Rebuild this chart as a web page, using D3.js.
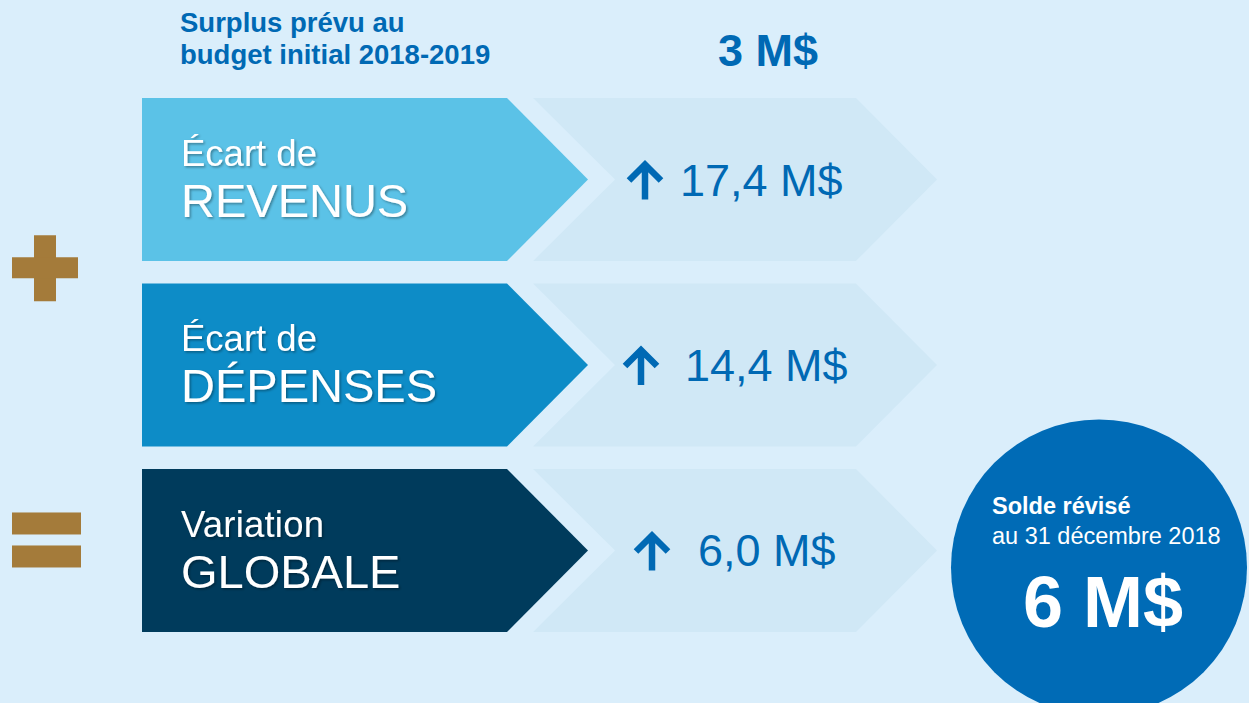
<!DOCTYPE html>
<html>
<head>
<meta charset="utf-8">
<script src="https://cdn.jsdelivr.net/npm/d3@7"></script>
<style>
  html, body { margin: 0; padding: 0; background: #daeefb; }
  svg { display: block; font-family: "Liberation Sans", Arial, sans-serif; }
</style>
</head>
<body>
<div class="container"></div>
<script>
// data
const rows = ["revenus", "depenses", "globale"];
const labelTop = ["Écart de", "Écart de", "Variation"];
const labelBig = ["REVENUS", "DÉPENSES", "GLOBALE"];
const variations = ["17,4 M$", "14,4 M$", "6,0 M$"];
const rowColors = ["#5bc2e7", "#0d8cc7", "#003b5c"];
const startTitle = ["Surplus prévu au", "budget initial 2018-2019"];
const startValue = "3 M$";
const endTitle = ["Solde révisé", "au 31 décembre 2018"];
const endValue = "6 M$";

const w = 1249;
const h = 703;

const svg = d3.select(".container")
    .append("svg")
    .attr("width", w)
    .attr("height", h)
    .attr("viewBox", `0 0 ${w} ${h}`);

// soft shadow under the white labels
const defs = svg.append("defs");
defs.append("filter")
    .attr("id", "shadow")
    .attr("x", "-10%").attr("y", "-20%")
    .attr("width", "130%").attr("height", "150%")
    .append("feDropShadow")
    .attr("dx", 1.5).attr("dy", 1.5)
    .attr("stdDeviation", 1)
    .attr("flood-color", "#000")
    .attr("flood-opacity", 0.35);

// rows are placed with a band scale
const y = d3.scaleBand()
    .domain(rows)
    .range([98, 632])
    .paddingInner(0.121);

const bh = y.bandwidth();
const tip = 81;

// x positions of the two arrow shapes
const x = d3.scaleOrdinal()
    .domain(["label", "value"])
    .range([142, 533]);
const labelW = 446;   // full width incl. tip
const valueW = 404;

const blue = "#0069b4";

// value chevrons (drawn first, behind)
svg.selectAll("path.chevron")
    .data(rows)
    .join("path")
    .attr("class", "chevron")
    .attr("fill", "#d0e8f6")
    .attr("d", (d) => {
        const x0 = x("value"), y0 = y(d), x1 = x0 + valueW;
        return `M${x0},${y0} L${x1 - tip},${y0} L${x1},${y0 + bh / 2} L${x1 - tip},${y0 + bh} ` +
               `L${x0},${y0 + bh} L${x0 + tip + 1},${y0 + bh / 2} Z`;
    });

// label arrows
svg.selectAll("path.label")
    .data(rows)
    .join("path")
    .attr("class", "label")
    .attr("fill", (d, i) => rowColors[i])
    .attr("d", (d) => {
        const x0 = x("label"), y0 = y(d), x1 = x0 + labelW;
        return `M${x0},${y0} L${x1 - tip},${y0} L${x1},${y0 + bh / 2} L${x1 - tip},${y0 + bh} L${x0},${y0 + bh} Z`;
    });

// white labels
const lbl = svg.selectAll("g.lbl")
    .data(rows)
    .join("g")
    .attr("class", "lbl")
    .attr("fill", "#fff")
    .attr("filter", "url(#shadow)");

lbl.append("text")
    .attr("x", x("label") + 39)
    .attr("y", (d) => y(d) + 68)
    .attr("font-size", 36.5)
    .attr("textLength", (d, i) => i === 2 ? 143 : null)
    .text((d, i) => labelTop[i]);

lbl.append("text")
    .attr("x", x("label") + 39)
    .attr("y", (d) => y(d) + 119)
    .attr("font-size", 47)
    .text((d, i) => labelBig[i]);

// up arrows and amounts
const val = svg.selectAll("g.val")
    .data(rows)
    .join("g")
    .attr("class", "val")
    .attr("transform", (d, i) => `translate(${[645, 641, 652][i]},${y(d) + bh / 2})`);

val.append("path")
    .attr("fill", "none")
    .attr("stroke", blue)
    .attr("stroke-width", 6.5)
    .attr("stroke-linejoin", "miter")
    .attr("d", "M-16,1 L0,-15 L16,1 M0,-15 L0,20");

val.append("text")
    .attr("x", (d, i) => [35, 44, 46][i])
    .attr("y", 16)
    .attr("font-size", 45)
    .attr("fill", blue)
    .text((d, i) => variations[i]);

// + and = signs
const gold = "#a47b3a";
const plusY = (y(rows[0]) + bh + y(rows[1])) / 2 - 4;
svg.append("rect").attr("x", 34).attr("y", plusY - 33).attr("width", 22).attr("height", 66).attr("fill", gold);
svg.append("rect").attr("x", 12).attr("y", plusY - 11).attr("width", 66).attr("height", 21).attr("fill", gold);

const eqY = y(rows[2]) + bh / 2 - 10;
svg.selectAll("rect.eq")
    .data([-28, 5])
    .join("rect")
    .attr("class", "eq")
    .attr("x", 12)
    .attr("y", (d) => eqY + d)
    .attr("width", 69)
    .attr("height", 22)
    .attr("fill", gold);

// starting surplus
svg.append("g")
    .selectAll("text")
    .data(startTitle)
    .join("text")
    .attr("x", 180)
    .attr("y", (d, i) => 32 + i * 32)
    .attr("font-size", 27.5)
    .attr("font-weight", "bold")
    .attr("fill", blue)
    .text((d) => d);

svg.append("text")
    .attr("x", 768)
    .attr("y", 66)
    .attr("text-anchor", "middle")
    .attr("font-size", 45)
    .attr("font-weight", "bold")
    .attr("fill", blue)
    .text(startValue);

// revised balance circle
const cx = 1099, cy = y(rows[2]) + bh / 2 + 17;
svg.append("circle")
    .attr("cx", cx)
    .attr("cy", cy)
    .attr("r", 148)
    .attr("fill", "#006bb6");

svg.append("text")
    .attr("x", 992).attr("y", 514)
    .attr("font-size", 23.5).attr("font-weight", "bold")
    .attr("fill", "#fff")
    .text(endTitle[0]);

svg.append("text")
    .attr("x", 992).attr("y", 544)
    .attr("font-size", 23.5)
    .attr("fill", "#fff")
    .text(endTitle[1]);

svg.append("text")
    .attr("x", 1103).attr("y", 627)
    .attr("text-anchor", "middle")
    .attr("font-size", 72).attr("font-weight", "bold")
    .attr("fill", "#fff")
    .text(endValue);
</script>
</body>
</html>
